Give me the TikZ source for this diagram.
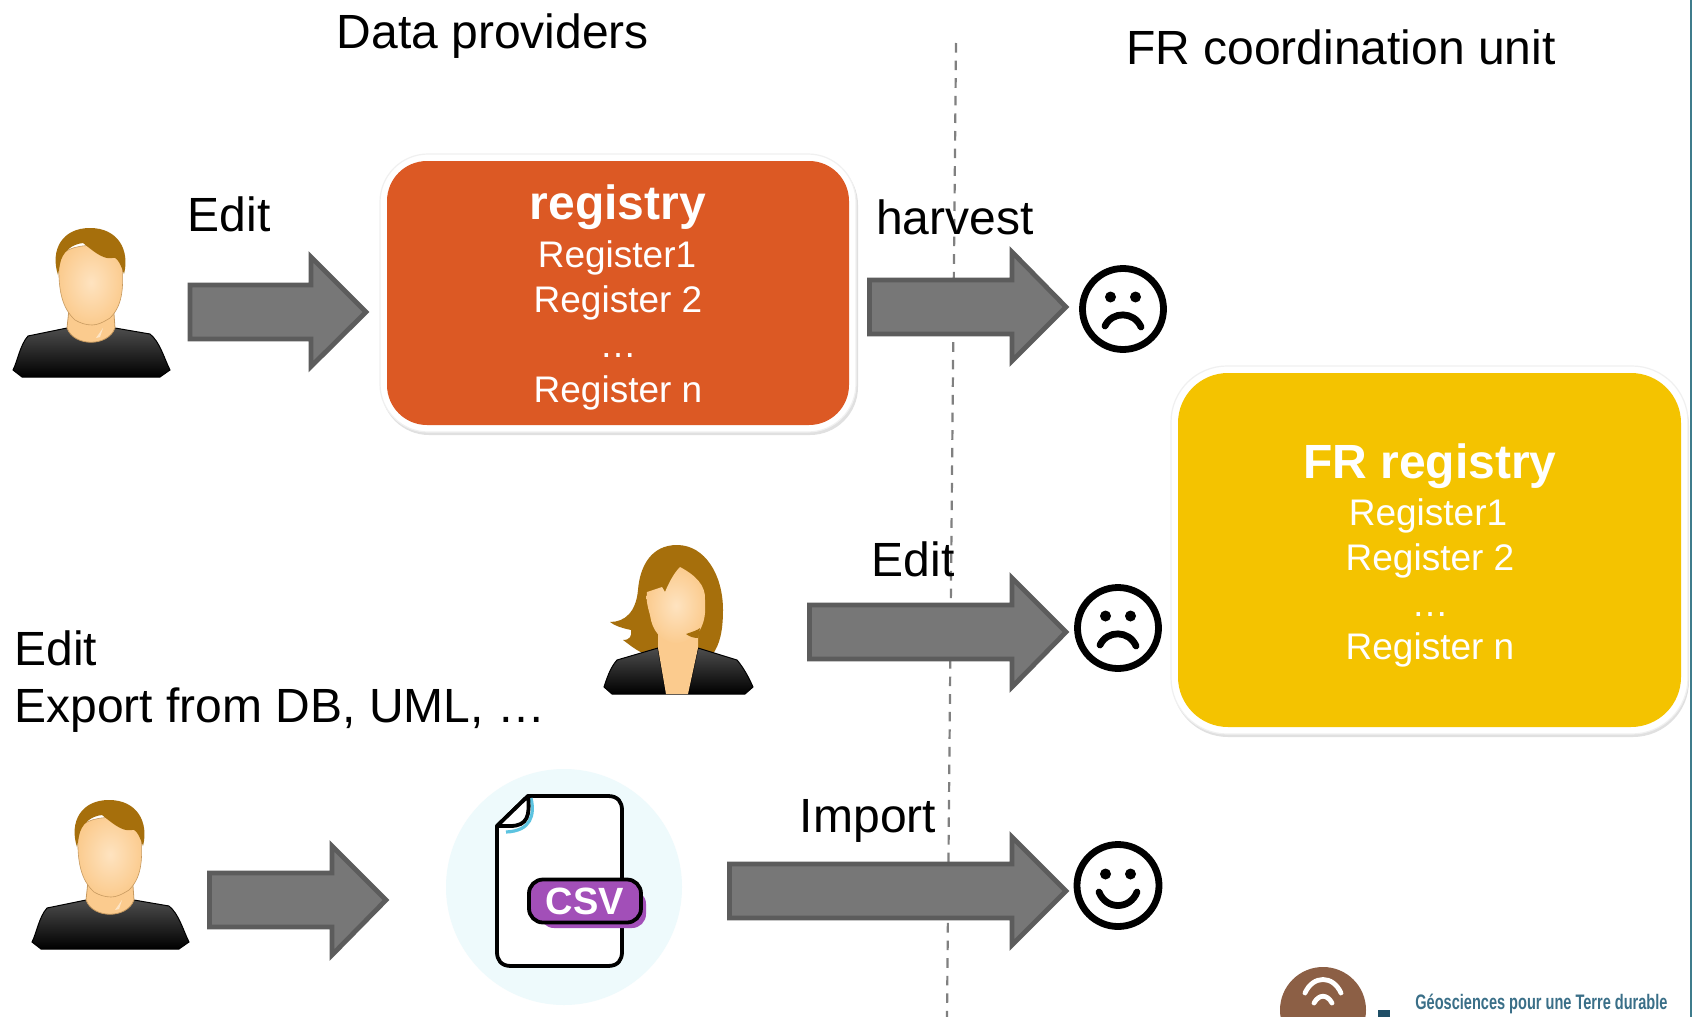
\documentclass[tikz,border=0pt]{standalone}
\usepackage{fontspec}
\usepackage{graphicx}
\setmainfont{Liberation Sans}
\definecolor{arrowfill}{HTML}{777777}
\definecolor{arrowedge}{HTML}{5C5C5C}
\definecolor{orangebox}{HTML}{DC5924}
\definecolor{yellowbox}{HTML}{F4C300}
\definecolor{hairm}{HTML}{A66F0C}
\definecolor{skin}{HTML}{FBCB8E}
\definecolor{skinlight}{HTML}{FEE3C0}
\definecolor{skinedge}{HTML}{C79A60}
\definecolor{csvpurple}{HTML}{A24FB8}
\definecolor{csvbg}{HTML}{EEFAFC}
\definecolor{foldblue}{HTML}{5CC3E0}
\definecolor{logobrown}{HTML}{8C5F45}
\definecolor{logoteal}{HTML}{3A6F88}
\definecolor{logodark}{HTML}{1F4E66}
\definecolor{edgeteal}{HTML}{3F7C8C}
\tikzset{
  x=0.5pt,y=-0.5pt,
  title/.style={font=\fontsize{24}{28}\selectfont,text=black,anchor=base,inner sep=0pt},
  titleleft/.style={title,anchor=base west},
  boxhead/.style={font=\fontsize{24}{28}\selectfont\bfseries,text=white,anchor=base,inner sep=0pt},
  boxline/.style={font=\fontsize{18.5}{22}\selectfont,text=white,anchor=base,inner sep=0pt},
  blockarrow/.style={fill=arrowfill,draw=arrowedge,line width=2.4pt,miter limit=10},
  halo/.style={fill=white,draw=black!6,line width=0.6pt},
  smile/.style={draw=black,line width=3.4pt,line cap=round},
  divider/.style={draw=black!50,line width=1.1pt,dash pattern=on 4.8pt off 4pt},
}
\newcommand{\blockarr}[7]{% x0 xhead xtip ytop ymid ybot shaft half
  \draw[blockarrow] (#1,#5-#7) -- (#2,#5-#7) -- (#2,#4) -- (#3,#5) -- (#2,#6) -- (#2,#5+#7) -- (#1,#5+#7) -- cycle;}
\newcommand{\manfig}{%
  \path[shade,top color=black!70,bottom color=black,draw=black,line width=0.5pt]
    (13,370) .. controls (18,360) and (20,345) .. (28,336)
    -- (67,328) -- (115,328) -- (150,334)
    .. controls (160,342) and (164,358) .. (170,370)
    -- (160,377) -- (22,377) -- cycle;
  \path[fill=skin,draw=skinedge,line width=0.4pt] (70,300) -- (67,328)
    .. controls (74,347) and (108,347) .. (115,328) -- (113,300) -- cycle;
  \path[inner color=skinlight,outer color=skin,draw=skinedge,line width=0.3pt]
    (59,262) .. controls (59,240) and (122,240) .. (122,262)
    .. controls (124,290) and (122,306) .. (110,318)
    .. controls (102,323) and (97,325) .. (92,325)
    .. controls (86,325) and (80,323) .. (75,320)
    .. controls (62,308) and (58,290) .. (59,262) -- cycle;
  \fill[hairm] (58,275) .. controls (50,250) and (62,228) .. (90,228)
    .. controls (118,228) and (130,250) .. (124,274)
    .. controls (120,262) and (116,256) .. (112,258)
    .. controls (103,260) and (92,250) .. (83,243)
    .. controls (72,244) and (62,252) .. (60,264) -- cycle;
  \fill[white,opacity=.5] (96,338) -- (103,328) -- (100,337) -- cycle;}
\begin{document}
\begin{tikzpicture}
\useasboundingbox (0,0) rectangle (1692,1017);
\fill[white] (0,0) rectangle (1692,1017);
\fill[edgeteal] (1690,0) rectangle (1692,1017);

% header texts
\node[title] (dp) at (493,48) {Data providers};
\node[title] (fr) at (1341,64) {FR coordination unit};

% dashed divider
\coordinate (dtop) at (956,43);
\coordinate (dbot) at (947,1017);
\draw[divider] (dtop) -- (dbot);

% arrows
\blockarr{190}{311}{366}{257}{312}{366.5}{27}
\blockarr{869.5}{1012}{1066}{252}{307}{361}{27}
\blockarr{809.5}{1012}{1066}{578}{632}{687}{27}
\blockarr{729.5}{1012}{1066}{837}{891}{945}{27}
\blockarr{209.5}{332}{386}{846}{900}{955}{27}

% registry box
\draw[fill=black!12,draw=none,rounded corners=24pt] (381,157) rectangle (858,435);
\draw[halo,rounded corners=24pt] (380,154) rectangle (856,432);
\node[fill=orangebox,rounded corners=20pt,minimum width=231pt,minimum height=132pt,inner sep=0pt] (reg) at (618,293) {};
\node[boxhead] (regh) at (618,219) {registry};
\node[boxline] (reg1) at (617,267) {Register1};
\node[boxline] (reg2) at (618,312) {Register 2};
\node[boxline] (regd) at (618,357) {…};
\node[boxline] (regn) at (618,402) {Register n};

% FR registry box
\draw[fill=black!12,draw=none,rounded corners=28pt] (1172,370) rectangle (1689,737);
\draw[halo,rounded corners=28pt] (1171,366) rectangle (1688,734);
\node[fill=yellowbox,rounded corners=25pt,minimum width=251.5pt,minimum height=177pt,inner sep=0pt] (frb) at (1429.5,550) {};
\node[boxhead] (frh) at (1430,478) {FR registry};
\node[boxline] (fr1) at (1428,525) {Register1};
\node[boxline] (fr2) at (1430,570) {Register 2};
\node[boxline] (frd) at (1430,616) {…};
\node[boxline] (frn) at (1430,659) {Register n};

% labels
\node[title] (e1) at (229,231) {Edit};
\node[title] (hv) at (955,234) {harvest};
\node[title] (e2) at (913,576) {Edit};
\node[title] (im) at (868,832) {Import};
\node[titleleft] (e3) at (14,665) {Edit};
\node[titleleft] (ex) at (14,722) {Export from DB, UML, …};

% persons
\begin{scope}\manfig\end{scope}
\begin{scope}[shift={(19,572)}]\manfig\end{scope}

% woman
\fill[hairm] (677,545) .. controls (705,545) and (723,575) .. (723,610)
  .. controls (723,630) and (720,645) .. (712,655)
  -- (647,655) .. controls (635,650) and (630,645) .. (623,640)
  .. controls (630,640) and (632,636) .. (631,630)
  .. controls (622,628) and (615,626) .. (610,622)
  .. controls (625,622) and (636,612) .. (638,590)
  .. controls (640,565) and (652,545) .. (677,545) -- cycle;
\path[shade,top color=black!70,bottom color=black,draw=black,line width=0.5pt]
  (604,687) .. controls (607,678) and (610,668) .. (617,660) -- (658,648)
  -- (666,694) -- (688,694) -- (698,648) -- (737,660)
  .. controls (744,668) and (750,680) .. (753,687) -- (745,694) -- (612,694) -- cycle;
\fill[skin] (658,625) -- (698,625) -- (698,648) -- (688,694) -- (666,694) -- (658,648) -- cycle;
\path[inner color=skinlight,outer color=skin]
  (680,567) .. controls (695,575) and (706,585) .. (705,600)
  .. controls (706,615) and (704,622) .. (700,630)
  .. controls (692,640) and (682,644) .. (673,643)
  .. controls (660,640) and (652,630) .. (650,615)
  .. controls (647,605) and (646,598) .. (647,592)
  -- (662,587) -- (665,592) .. controls (670,580) and (675,572) .. (680,567) -- cycle;
\fill[hairm] (686,634) .. controls (692,632) and (698,630) .. (700,628)
  -- (698,638) .. controls (694,638) and (690,637) .. (686,634) -- cycle;

% csv icon
\fill[csvbg] (564,887) circle[radius=118];
\path[draw=black,fill=white,line width=1.9pt,line join=round]
  (528,796) -- (608,796) .. controls (618,796) and (622,802) .. (622,810)
  -- (622,952) .. controls (622,960) and (618,966) .. (608,966)
  -- (511,966) .. controls (501,966) and (497,960) .. (497,952) -- (497,826) -- cycle;
\draw[foldblue,line width=1.6pt] (531,798) .. controls (535,815) and (531,831) .. (506,832);
\path[draw=black,fill=white,line width=1.9pt,line join=round]
  (497,826) -- (528,796) .. controls (530,815) and (528,826) .. (510,826) -- cycle;
\draw[fill=csvpurple,draw=none,rounded corners=7pt] (540,890) rectangle (646,928);
\node[fill=csvpurple,draw=black,line width=1.9pt,rounded corners=7pt,minimum width=56pt,minimum height=21.5pt,inner sep=0pt,font=\fontsize{19}{22}\selectfont\bfseries,text=white] (csv) at (585,901) {CSV};

% smileys
\begin{scope}[smile]
\draw (1123,309) circle[radius=40.5];
\fill (1110.5,297) circle[radius=5.5];
\fill (1135.5,297) circle[radius=5.5];
\draw (1105,326) .. controls (1112,311) and (1134,311) .. (1141,327);
\draw (1118,628) circle[radius=40.5];
\fill (1105.5,616) circle[radius=5.5];
\fill (1130.5,616) circle[radius=5.5];
\draw (1100,645) .. controls (1107,630) and (1129,630) .. (1136,646);
\draw (1118,885.5) circle[radius=41];
\fill (1105.5,874) circle[radius=5.5];
\fill (1130.5,874) circle[radius=5.5];
\draw (1099,892) .. controls (1106,910) and (1130,910) .. (1137,892);
\end{scope}

% logo
\begin{scope}
\clip (1240,940) rectangle (1692,1017);
\fill[logobrown] (1323,1010) circle[radius=43];
\draw[white,line width=2.4pt,line cap=round] (1305,993) .. controls (1313,975) and (1333,975) .. (1341,993);
\draw[white,line width=2.4pt,line cap=round] (1314,1003) .. controls (1319,994) and (1327,994) .. (1332,1003);
\fill[logodark] (1378,1010) rectangle (1390,1017);
\end{scope}
\node[anchor=base west,inner sep=0pt,text=logoteal,font=\fontsize{10.5}{12}\selectfont\bfseries] (logo) at (1415,1009) {\scalebox{0.693}[1]{Géosciences pour une Terre durable}};
\end{tikzpicture}
\end{document}
